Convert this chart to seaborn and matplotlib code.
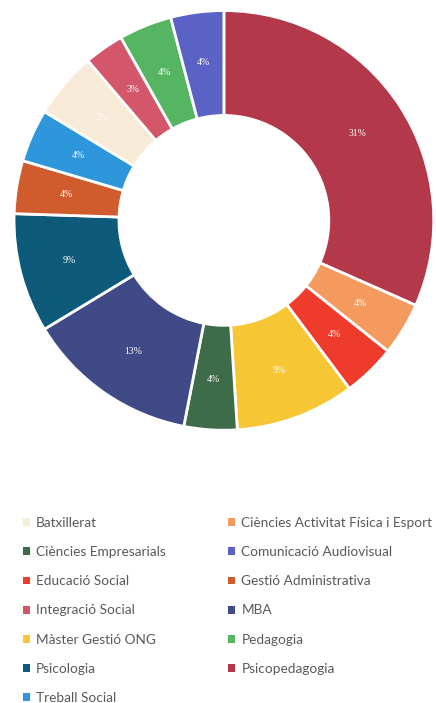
import matplotlib
matplotlib.use("Agg")
import matplotlib.pyplot as plt
from matplotlib.patches import Patch
import seaborn as sns

# Slices in clockwise order, starting at 12 o'clock
programmes = ["Psicopedagogia", "Ciències Activitat Física i Esport", "Educació Social",
              "Màster Gestió ONG", "Ciències Empresarials", "MBA", "Psicologia",
              "Gestió Administrativa", "Treball Social", "Batxillerat",
              "Integració Social", "Pedagogia", "Comunicació Audiovisual"]
percent = [31, 4, 4, 9, 4, 13, 9, 4, 4, 5, 3, 4, 4]
colors = ["#b3394a", "#f59a5f", "#ee3b2c", "#f7c634", "#3e6b48", "#3f4a86", "#0e5a7a",
          "#d05b2d", "#2e97dc", "#f7ead6", "#d4566a", "#55b562", "#5b62c6"]

sns.set_theme(style="white")
plt.rcParams["font.family"] = ["Lato", "DejaVu Sans"]

fig = plt.figure(figsize=(4.36, 7.03), dpi=100)
ax = fig.add_axes([0.032, 0.388, 0.963, 0.597])

total = sum(percent)
wedges, _, autotexts = ax.pie(
    percent, colors=colors, startangle=90, counterclock=False,
    autopct=lambda p: f"{p * total / 100:.0f}%", pctdistance=0.76,
    wedgeprops=dict(width=0.5, edgecolor="white", linewidth=2),
)
for t in autotexts:
    t.set_color("white")
    t.set_fontsize(7)
    t.set_family("Liberation Serif")
ax.set_xlim(-1, 1)
ax.set_ylim(-1, 1)
ax.set_aspect("equal")

# legend: alphabetical, filled row by row in two columns
order = sorted(range(len(programmes)), key=lambda i: programmes[i])
order = order[0::2] + order[1::2]
handles = [Patch(facecolor=colors[i], edgecolor="none") for i in order]
labels = [programmes[i] for i in order]
fig.legend(handles, labels, ncol=2, loc="upper left", bbox_to_anchor=(0.025, 0.282),
           frameon=False, fontsize=9.8, labelcolor="#595959",
           handlelength=0.5, handleheight=0.5, handletextpad=0.45,
           labelspacing=1.26, columnspacing=4.6)

fig.savefig("out.png", dpi=100)
